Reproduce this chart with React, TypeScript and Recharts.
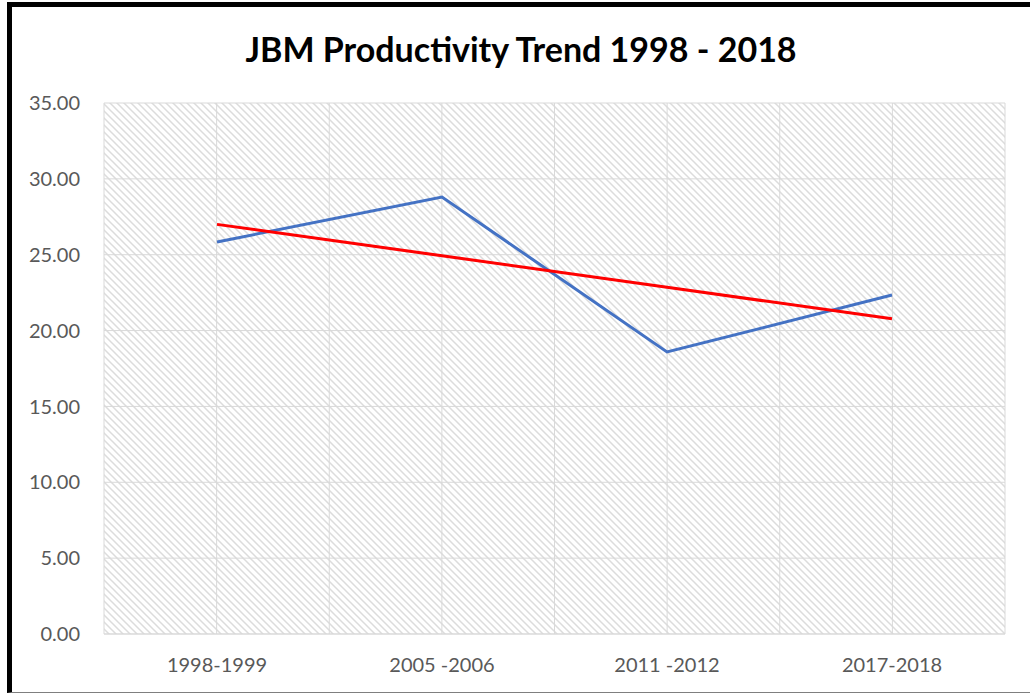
import React from 'react';
import {
  LineChart,
  Line,
  XAxis,
  YAxis,
  CartesianGrid,
} from 'recharts';

const periods = ['1998-1999', '2005 -2006', '2011 -2012', '2017-2018'];
const productivity = [25.84, 28.8, 18.59, 22.34];
const trendValues = [27.0, 24.93, 22.85, 20.78];
const yTicks = [0, 5, 10, 15, 20, 25, 30, 35];

const data = periods.map((period, i) => ({
  period,
  productivity: productivity[i],
  trend: trendValues[i],
}));

const W = 1030;
const H = 694;
const font = 'Lato, "Noto Sans", sans-serif';

// split the plot into half-category columns so gridlines fall on centres and edges
const columnLines = ({ offset }: any) => {
  const step = offset.width / (periods.length * 2);
  return Array.from({ length: periods.length * 2 + 1 }, (_, i) => offset.left + i * step);
};

export default function App() {
  return (
    <div
      style={{
        position: 'fixed',
        left: 0,
        top: 0,
        width: W,
        height: H,
        background: '#fff',
        overflow: 'hidden',
      }}
    >
      <svg width="0" height="0" style={{ position: 'absolute' }}>
        <defs>
          <pattern id="hatch" width="7" height="7" patternUnits="userSpaceOnUse">
            <rect width="7" height="7" fill="#ffffff" />
            <path d="M-2,5 L2,9 M0,0 L7,7 M5,-2 L9,2" stroke="#dcdcdc" strokeWidth="1.5" />
          </pattern>
        </defs>
      </svg>
      <div
        style={{
          position: 'absolute',
          left: 7,
          top: 2,
          width: W,
          height: H - 3,
          borderTop: '5px solid #000',
          borderLeft: '5px solid #000',
          borderBottom: '1px solid #7f7f7f',
          boxSizing: 'border-box',
        }}
      />
      <div
        style={{
          position: 'absolute',
          left: 6,
          top: 28,
          width: W,
          textAlign: 'center',
          fontFamily: font,
          fontWeight: 'bold',
          fontSize: 34,
          color: '#000',
        }}
      >
        JBM Productivity Trend 1998 - 2018
      </div>
      <div style={{ position: 'absolute', left: 0, top: 0 }}>
        <LineChart
          width={W}
          height={H}
          data={data}
          margin={{ top: 103, right: 25, bottom: 30, left: 0 }}
        >
          <CartesianGrid
            stroke="#d9d9d9"
            strokeWidth={1}
            fill="url(#hatch)"
            fillOpacity={1}
            verticalCoordinatesGenerator={columnLines}
          />
          <XAxis
            dataKey="period"
            height={30}
            padding={{ left: 113, right: 113 }}
            axisLine={{ stroke: '#d9d9d9' }}
            tickLine={false}
            tickMargin={18}
            tick={{ fill: '#595959', fontFamily: font, fontSize: 20 }}
          />
          <YAxis
            width={104}
            domain={[0, 35]}
            ticks={yTicks}
            interval={0}
            axisLine={false}
            tickLine={false}
            tickSize={6}
            tickMargin={18}
            tickFormatter={(v: number) => v.toFixed(2)}
            tick={{ fill: '#595959', fontFamily: font, fontSize: 20 }}
          />
          <Line
            dataKey="productivity"
            stroke="#4472C4"
            strokeWidth={3}
            dot={false}
            isAnimationActive={false}
          />
          <Line
            dataKey="trend"
            stroke="#ff0000"
            strokeWidth={3}
            dot={false}
            isAnimationActive={false}
          />
        </LineChart>
      </div>
    </div>
  );
}
